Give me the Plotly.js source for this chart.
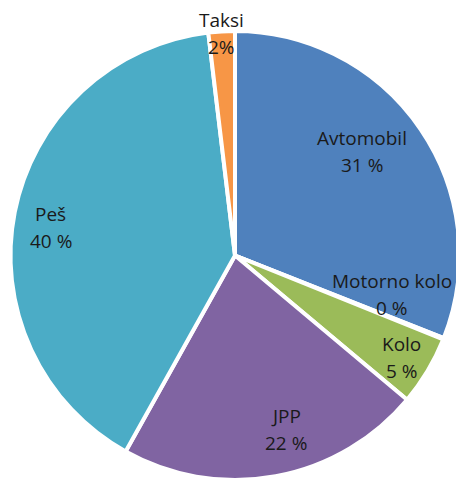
<!DOCTYPE html>
<html>
<head>
<meta charset="utf-8">
<script src="https://cdn.plot.ly/plotly-3.0.1.min.js"></script>
<style>html,body{margin:0;padding:0;overflow:hidden;background:#fff;width:456px;height:480px}</style>
</head>
<body>
<div id="chart"></div>
<script>
// Data
const categories = ['Avtomobil', 'Motorno kolo', 'Kolo', 'JPP', 'Peš', 'Taksi'];
const shares = [31, 0.1, 5, 22, 40, 1.9];
const pctLabels = ['31 %', '0 %', '5 %', '22 %', '40 %', '2%'];

// Style
const colors = ['#4F81BD', '#C0504D', '#9BBB59', '#8064A2', '#4BACC6', '#F79646'];
const labelRadius = [0.73, 0.72, 0.87, 0.81, 0.83, 0.99];   // fraction of pie radius
const labelAngleShift = [-5, -8, 0.5, -6, -2.5, 0];          // degrees

const W = 460, H = 480, M = {l: 10, r: 0, t: 31, b: 0};
const plotW = W - M.l - M.r, plotH = H - M.t - M.b;
const R = Math.min(plotW, plotH) / 2;
const cx = M.l + plotW / 2, cy = M.t + plotH / 2;

const total = shares.reduce((a, b) => a + b, 0);
const annotations = [];
let acc = 0;
const font = {family: 'Open Sans, sans-serif', size: 19, color: '#1a1a1a'};
shares.forEach((v, i) => {
  const a0 = acc / total * 360;
  acc += v;
  const a1 = acc / total * 360;
  const mid = ((a0 + a1) / 2 + labelAngleShift[i]) * Math.PI / 180;
  const r = labelRadius[i] * R;
  const px = cx + r * Math.sin(mid);
  const py = cy - r * Math.cos(mid);
  const toX = p => (p - M.l) / plotW;
  const toY = p => 1 - (p - M.t) / plotH;
  annotations.push({xref: 'paper', yref: 'paper', x: toX(px), y: toY(py - 13.5),
    xanchor: 'center', yanchor: 'middle', text: categories[i], showarrow: false, font: font});
  annotations.push({xref: 'paper', yref: 'paper', x: toX(px), y: toY(py + 13.5),
    xanchor: 'center', yanchor: 'middle', text: pctLabels[i], showarrow: false, font: font});
});

const trace = {
  type: 'pie',
  labels: categories,
  values: shares,
  sort: false,
  direction: 'clockwise',
  rotation: 0,
  textinfo: 'none',
  hoverinfo: 'label+percent',
  marker: {colors: colors, line: {color: '#ffffff', width: 4}},
  domain: {x: [0, 1], y: [0, 1]}
};

Plotly.newPlot('chart', [trace], {
  width: W, height: H,
  margin: M,
  showlegend: false,
  paper_bgcolor: '#ffffff',
  annotations: annotations
}, {displayModeBar: false, staticPlot: true});
</script>
</body>
</html>
